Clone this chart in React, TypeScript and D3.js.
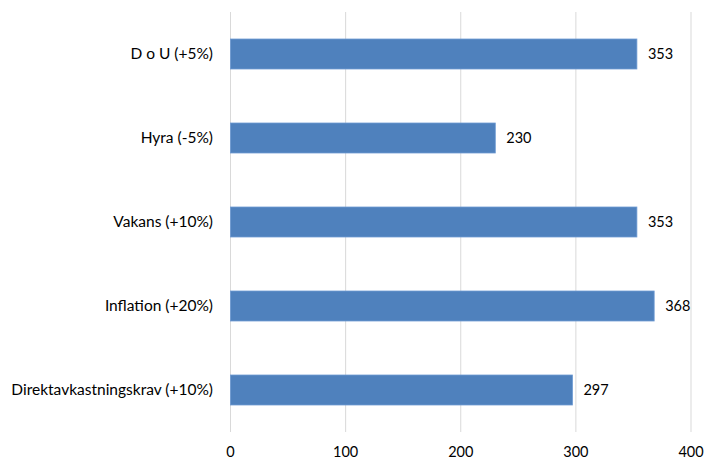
import React, { useEffect } from "react";
import * as d3 from "d3";

const categories = [
  "D o U (+5%)",
  "Hyra (-5%)",
  "Vakans (+10%)",
  "Inflation (+20%)",
  "Direktavkastningskrav (+10%)",
];
const values = [353, 230, 353, 368, 297];
const ticks = [0, 100, 200, 300, 400];

const W = 706;
const H = 460;
const FONT = "Lato, 'Open Sans', sans-serif";

export default function App() {
  useEffect(() => {
    document.body.style.margin = "0";
  }, []);

  const x = d3.scaleLinear().domain([0, 400]).range([230.5, 691]);
  const y = d3
    .scaleBand<string>()
    .domain(categories)
    .range([12, 432])
    .paddingInner(0.643)
    .paddingOuter(0.3215);

  return (
    <svg width={W} height={H} style={{ display: "block", background: "#fff" }}>
      {ticks.map((t) => (
        <g key={t}>
          <line x1={x(t)} x2={x(t)} y1={12} y2={432} stroke="#d9d9d9" strokeWidth={1} />
          <text
            x={x(t)}
            y={457}
            textAnchor="middle"
            fontFamily={FONT}
            fontSize={14.5}
            fill="#000"
          >
            {t}
          </text>
        </g>
      ))}
      {categories.map((c, i) => {
        const y0 = y(c) as number;
        const bh = y.bandwidth();
        return (
          <g key={c}>
            <rect
              x={x(0)}
              y={y0}
              width={x(values[i]) - x(0)}
              height={bh}
              fill="#4f81bd"
              stroke="#6d9ad3"
              strokeWidth={0.8}
            />
            <text
              x={x(values[i]) + 11}
              y={y0 + bh / 2 + 5}
              fontFamily={FONT}
              fontSize={14.5}
              fill="#000"
            >
              {values[i]}
            </text>
            <text
              x={213}
              y={y0 + bh / 2 + 5}
              textAnchor="end"
              fontFamily={FONT}
              fontSize={15.5}
              fill="#000"
            >
              {c}
            </text>
          </g>
        );
      })}
    </svg>
  );
}
